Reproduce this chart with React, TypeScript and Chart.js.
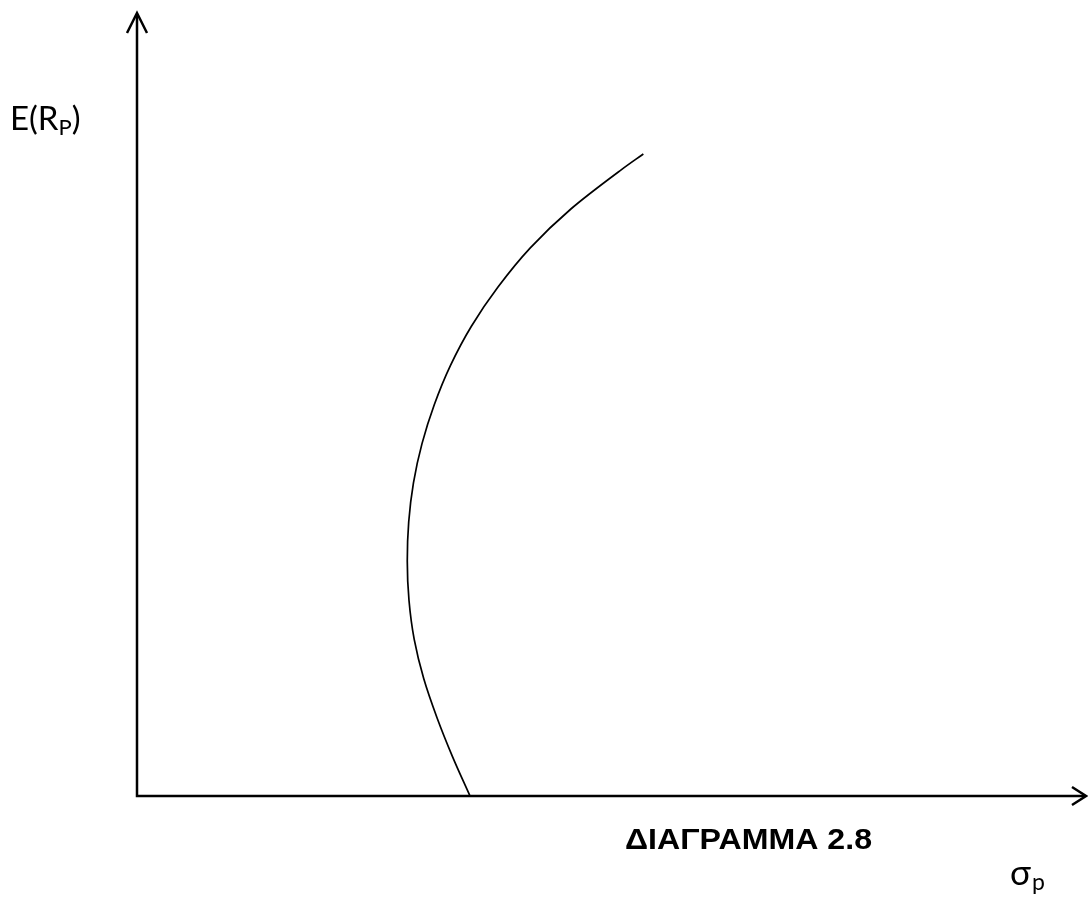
import React, { useEffect, useRef } from "react";
import { Chart, registerables } from "chart.js";

Chart.register(...registerables);

// Efficient frontier (portfolio risk vs expected return), abstract units 0..10
const returnValues = [0, 0.5, 1, 1.5, 2, 2.5, 3, 3.5, 4, 4.5, 5, 5.5, 6, 6.5, 7, 7.5, 8, 8.2];
const sigmaValues = [3.505, 3.322, 3.158, 3.018, 2.918, 2.863, 2.845, 2.86, 2.91, 3.0, 3.13, 3.3, 3.52, 3.8, 4.14, 4.57, 5.1, 5.33];

const yTitleMain = "E(R";
const yTitleSub = "P";
const yTitleEnd = ")";
const xTitleMain = "σ";
const xTitleSub = "p";
const caption = "ΔΙΑΓΡΑΜΜΑ 2.8";

const W = 1088;
const H = 899;
const labelFont = "Lato, 'Open Sans', sans-serif";

const axesPlugin = {
  id: "arrowAxes",
  afterDraw(chart: any) {
    const { ctx, chartArea } = chart;
    const { left, right, top, bottom } = chartArea;
    ctx.save();
    ctx.strokeStyle = "#000";
    ctx.lineWidth = 2.5;
    ctx.lineCap = "butt";
    // axes
    ctx.beginPath();
    ctx.moveTo(left, bottom + 1.2);
    ctx.lineTo(left, top + 1);
    ctx.moveTo(left - 1.2, bottom);
    ctx.lineTo(right - 2, bottom);
    ctx.stroke();
    // open arrowheads
    ctx.lineJoin = "miter";
    ctx.beginPath();
    ctx.moveTo(left - 10, top + 20);
    ctx.lineTo(left, top);
    ctx.lineTo(left + 10, top + 20);
    ctx.moveTo(right - 15, bottom - 9);
    ctx.lineTo(right - 1, bottom);
    ctx.lineTo(right - 15, bottom + 9);
    ctx.stroke();

    ctx.fillStyle = "#000";
    ctx.textBaseline = "alphabetic";
    ctx.textAlign = "left";
    // y-axis title
    ctx.font = `33px ${labelFont}`;
    let x = 10;
    const yb = 130;
    ctx.fillText(yTitleMain, x, yb);
    x += ctx.measureText(yTitleMain).width;
    ctx.font = `22px ${labelFont}`;
    ctx.fillText(yTitleSub, x, yb + 5);
    x += ctx.measureText(yTitleSub).width;
    ctx.font = `33px ${labelFont}`;
    ctx.fillText(yTitleEnd, x, yb);

    // x-axis title
    ctx.font = `35px ${labelFont}`;
    let sx = 1010;
    const sb = 885;
    ctx.fillText(xTitleMain, sx, sb);
    sx += ctx.measureText(xTitleMain).width + 1;
    ctx.font = `23px ${labelFont}`;
    ctx.fillText(xTitleSub, sx, sb + 5);

    // caption, fitted to its printed width
    ctx.font = "bold 30px 'Liberation Sans', Arial, sans-serif";
    const capW = ctx.measureText(caption).width;
    ctx.translate(625, 849);
    ctx.scale(247 / capW, 1);
    ctx.fillText(caption, 0, 0);
    ctx.restore();
  },
};

export default function App() {
  const canvasRef = useRef<HTMLCanvasElement | null>(null);

  useEffect(() => {
    const canvas = canvasRef.current;
    if (!canvas) return;
    const chart = new Chart(canvas, {
      type: "line",
      data: {
        datasets: [
          {
            data: sigmaValues.map((s, i) => ({ x: s, y: returnValues[i] })),
            borderColor: "#000",
            borderWidth: 1.7,
            pointRadius: 0,
            cubicInterpolationMode: "monotone",
            fill: false,
          },
        ],
      },
      options: {
        animation: false,
        responsive: false,
        maintainAspectRatio: false,
        devicePixelRatio: 1,
        indexAxis: "y",
        layout: { padding: { left: 137, right: 1, top: 13, bottom: 103 } },
        plugins: {
          legend: { display: false },
          tooltip: { enabled: false },
          title: { display: false },
        },
        scales: {
          x: { type: "linear", min: 0, max: 10, display: false },
          y: { type: "linear", min: 0, max: 10, display: false },
        },
        events: [],
      },
      plugins: [axesPlugin],
    });
    return () => chart.destroy();
  }, []);

  return (
    <div style={{ position: "fixed", left: 0, top: 0, width: W, height: H, background: "#fff" }}>
      <canvas ref={canvasRef} width={W} height={H} style={{ width: W, height: H, display: "block" }} />
    </div>
  );
}
